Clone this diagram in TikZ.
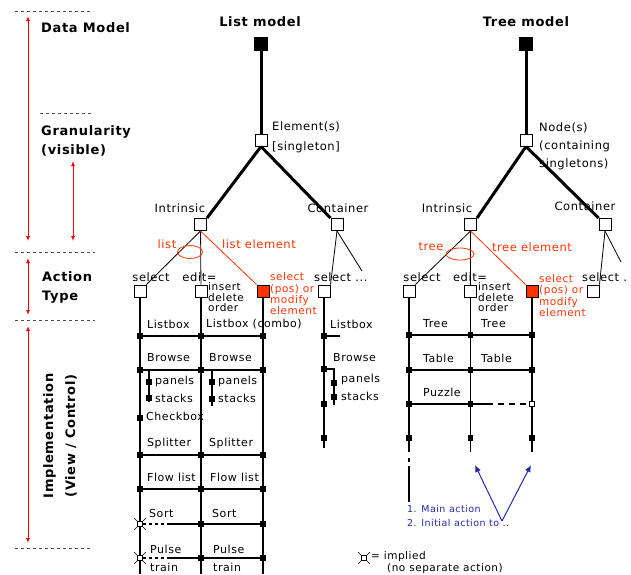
\documentclass[tikz,border=0pt]{standalone}
\usepackage{fontspec}
\setmainfont{DejaVu Sans}[LetterSpace=5]
\usepackage{xcolor}
\usetikzlibrary{arrows.meta,shapes.geometric}
\definecolor{actred}{RGB}{255,51,0}
\definecolor{navy}{RGB}{40,40,170}

\begin{document}
\begin{tikzpicture}[
  x=1pt, y=-1pt,
  hdr/.style={font=\bfseries\fontsize{13}{19}\selectfont, inner sep=0, align=left},
  lbl/.style={font=\fontsize{11.5}{13}\selectfont, inner sep=0},
  glbl/.style={font=\fontsize{11}{12}\selectfont, inner sep=0, anchor=west},
  note/.style={font=\fontsize{10.5}{10.5}\selectfont, inner sep=0, anchor=west, align=left},
  rednote/.style={note, text=actred, font=\fontsize{10.5}{11.3}\selectfont},
  box/.style={draw, fill=white, line width=1pt, inner sep=0, minimum size=12pt},
  blk/.style={box, fill=black, minimum size=13pt},
  pick/.style={box, fill=actred},
  dot/.style={fill=black, inner sep=0, minimum size=5.5pt},
  hollow/.style={draw, fill=white, line width=0.7pt, inner sep=0, minimum size=5pt},
  ray/.style={draw, line width=0.6pt},
  implied/.style={hollow, append after command={
    (\tikzlastnode.north east) edge[ray] ([shift={(3pt,3pt)}]\tikzlastnode.north east)
    (\tikzlastnode.north west) edge[ray] ([shift={(-3pt,3pt)}]\tikzlastnode.north west)
    (\tikzlastnode.south east) edge[ray] ([shift={(3pt,-3pt)}]\tikzlastnode.south east)
    (\tikzlastnode.south west) edge[ray] ([shift={(-3pt,-3pt)}]\tikzlastnode.south west)}},
  ring/.style={draw=actred, line width=0.8pt, ellipse, inner sep=0},
  thk/.style={line width=3pt},
  thn/.style={line width=0.8pt},
  col/.style={line width=1.4pt},
  row/.style={line width=1.4pt},
  gap/.style={row, dash pattern=on 3pt off 3pt},
  sep/.style={black!70, line width=0.7pt, dash pattern=on 3pt off 3pt},
  scl/.style={red, line width=1pt, <->, >={Latex[length=5pt,width=4pt]}},
  cue/.style={navy, line width=1pt, -{Latex[length=7pt,width=6pt]}}
]
\path[use as bounding box, fill=white] (0,0) rectangle (631,574);

% scale on the left
\draw[sep] (15,11) -- (93,11);
\draw[sep] (40,113) -- (93,113);
\draw[sep] (15,252) -- (95,252);
\draw[sep] (15,320) -- (95,320);
\draw[sep] (15,548) -- (92,548);
\draw[scl] (28,16) -- (28,241);
\draw[scl] (73,161) -- (73,241);
\draw[scl] (28,258) -- (28,315);
\draw[scl] (28,326) -- (28,543);
\node[hdr, anchor=west] (dm) at (41,28) {Data Model};
\node[hdr, anchor=west] (gr) at (41,140.5) {Granularity\\(visible)};
\node[hdr, anchor=west] (at) at (42,287.5) {Action\\Type};
\node[hdr, rotate=90, align=center, font=\bfseries\fontsize{13}{22}\selectfont] (im) at (60,436) {Implementation\\(View / Control)};

% list model
\node[hdr] (lhd) at (260,22) {List model};
\node[blk] (lroot) at (261,44) {};
\node[box] (lel) at (261,140) {};
\node[lbl, anchor=west, align=left, font=\fontsize{11.5}{20}\selectfont] (lelt) at (272,137) {Element(s)\\{[singleton]}};
\node[box] (lint) at (200.5,224.5) {};
\node[box] (lcon) at (337,224.5) {};
\node[lbl] (lintt) at (180,208) {Intrinsic};
\node[lbl] (lcont) at (338,208) {Container};
\draw[thk] (lroot) -- (lel);
\draw[thk] (lel.south) -- (lint.north east);
\draw[thk] (lel.south) -- (lcon.north west);

\node[box] (lsel) at (140,291) {};
\node[box] (ledit) at (201,291) {};
\node[pick] (lmod) at (263,291) {};
\node[box] (lcsel) at (324,291) {};
\coordinate (lcx) at (362,271);
\draw[thn] (lint.south) -- (lsel.north east);
\draw[thn] (lint) -- (ledit);
\draw[thn, actred] (lint.south) -- (lmod.north west);
\draw[thn] (lcon.south) -- (lcsel.north east);
\draw[thn] (lcon.south) -- (lcx);
\node[ring, minimum width=25pt, minimum height=13pt] (lring) at (190,252) {};
\node[lbl, text=actred] (llst) at (167,244) {list};
\node[lbl, text=actred] (llel) at (259,244) {list element};
\node[lbl] (lselt) at (151,277) {select};
\node[lbl] (ledt) at (199.5,277) {edit=};
\node[lbl, anchor=west] (lcst) at (314,277) {select ...};
\node[note] (lops) at (208,297.5) {insert\\delete\\order};
\node[rednote] (lmodt) at (270,294) {select\\(pos) or\\modify\\element};

\coordinate (l1e) at (140,574);
\coordinate (l2e) at (201,574);
\coordinate (l3e) at (263,574);
\coordinate (l4e) at (324,448);
\draw[col] (lsel) -- (l1e);
\draw[col] (ledit) -- (l2e);
\draw[col] (lmod) -- (l3e);
\draw[col] (lcsel) -- (l4e);

\foreach \n/\y in {a/336,b/370,c/455,d/489}{
  \node[dot] (l\n1) at (140,\y) {};
  \node[dot] (l\n2) at (201,\y) {};
  \node[dot] (l\n3) at (263,\y) {};
  \draw[row] (l\n1) -- (l\n2) -- (l\n3);
}
\foreach \n/\y in {e/524,f/558}{
  \node[implied] (l\n1) at (140,\y) {};
  \coordinate (lg\n) at (167,\y);
  \node[dot] (l\n2) at (201,\y) {};
  \node[dot] (l\n3) at (263,\y) {};
  \draw[gap] (l\n1) -- (lg\n);
  \draw[row] (lg\n) -- (l\n2) -- (l\n3);
}
\coordinate (lbr1) at (149,370);
\coordinate (lbe1) at (149,402);
\coordinate (lbr2) at (212,370);
\coordinate (lbe2) at (212,406);
\draw[col] (lbr1) -- (lbe1);
\draw[col] (lbr2) -- (lbe2);
\node[dot] (lp1) at (149,382) {};
\node[dot] (ls1) at (149,398) {};
\node[dot] (lp2) at (212,382) {};
\node[dot] (ls2) at (212,399) {};
\node[dot] (lck) at (140,418) {};

\node[dot] (lka) at (324,336) {};
\node[dot] (lkb) at (324,369) {};
\node[dot] (lkc) at (324,404) {};
\node[dot] (lkd) at (324,438) {};
\coordinate (lkst) at (340,336);
\coordinate (lkb1) at (334,369);
\coordinate (lkb2) at (334,405);
\draw[row] (lka) -- (lkst);
\draw[row] (lkb) -- (lkb1) -- (lkb2);
\node[dot] (lkp) at (334,383) {};
\node[dot] (lks) at (334,397) {};

\node[glbl] (g1) at (147,324) {Listbox};
\node[glbl] (g2) at (206,324) {Listbox (combo)};
\node[glbl] (g3) at (147,358) {Browse};
\node[glbl] (g4) at (209,358) {Browse};
\node[glbl] (g5) at (155,381) {panels};
\node[glbl] (g6) at (155,398) {stacks};
\node[glbl] (g7) at (218,381) {panels};
\node[glbl] (g8) at (218,398) {stacks};
\node[glbl] (g9) at (146,416) {Checkbox};
\node[glbl] (g10) at (147,443) {Splitter};
\node[glbl] (g11) at (209,443) {Splitter};
\node[glbl] (g12) at (147,477) {Flow list};
\node[glbl] (g13) at (210,477) {Flow list};
\node[glbl] (g14) at (149,513) {Sort};
\node[glbl] (g15) at (212,513) {Sort};
\node[glbl] (g16) at (150,549) {Pulse};
\node[glbl] (g17) at (150,567) {train};
\node[glbl] (g18) at (213,549) {Pulse};
\node[glbl] (g19) at (213,567) {train};
\node[glbl] (g20) at (330,324) {Listbox};
\node[glbl] (g21) at (333,358) {Browse};
\node[glbl] (g22) at (341,379) {panels};
\node[glbl] (g23) at (341,396) {stacks};

% tree model
\node[hdr] (thd) at (526,22) {Tree model};
\node[blk] (troot) at (526,44) {};
\node[box] (tnd) at (526,140) {};
\node[lbl, anchor=west, align=left, font=\fontsize{11.5}{18}\selectfont] (tndt) at (539,146) {Node(s)\\(containing\\singletons)};
\node[box] (tint) at (470.5,224.5) {};
\node[box] (tcon) at (605,224.5) {};
\node[lbl] (tintt) at (447,208) {Intrinsic};
\node[lbl] (tcont) at (585,206) {Container};
\draw[thk] (troot) -- (tnd);
\draw[thk] (tnd.south) -- (tint.north east);
\draw[thk] (tnd.south) -- (tcon.north west);

\node[box] (tsel) at (409,291) {};
\node[box] (tedit) at (470.5,291) {};
\node[pick] (tmod) at (532,291) {};
\node[box] (tcsel) at (593,291) {};
\coordinate (tcx) at (621,262);
\draw[thn] (tint.south) -- (tsel.north east);
\draw[thn] (tint) -- (tedit);
\draw[thn, actred] (tint.south) -- (tmod.north west);
\draw[thn] (tcon.south) -- (tcsel.north east);
\draw[thn] (tcon.south) -- (tcx);
\node[ring, minimum width=28pt, minimum height=12pt] (tring) at (460,254) {};
\node[lbl, text=actred] (ttr) at (431,247) {tree};
\node[lbl, text=actred] (ttel) at (532,247) {tree element};
\node[lbl] (tselt) at (422,277) {select};
\node[lbl] (tedt) at (470,277) {edit=};
\node[lbl, anchor=west] (tcst) at (582,277) {select .};
\node[note] (tops) at (478,297.5) {insert\\delete\\order};
\node[rednote] (tmodt) at (539,295.5) {select\\(pos) or\\modify\\element};

\coordinate (t1e) at (409,452);
\coordinate (t2e) at (470.5,452);
\coordinate (t3e) at (532,452);
\coordinate (tx1) at (409,458);
\coordinate (tx2) at (409,462);
\coordinate (tx3) at (409,466);
\coordinate (tx4) at (409,502);
\draw[col] (tsel) -- (t1e);
\draw[col] (tx1) -- (tx2) (tx3) -- (tx4);
\draw[col] (tedit) -- (t2e);
\draw[col] (tmod) -- (t3e);

\foreach \n/\y in {a/335,b/370}{
  \node[dot] (t\n1) at (409,\y) {};
  \node[dot] (t\n2) at (470.5,\y) {};
  \node[dot] (t\n3) at (532,\y) {};
  \draw[row] (t\n1) -- (t\n2) -- (t\n3);
}
\node[dot] (tc1) at (409,404) {};
\node[dot] (tc2) at (470.5,404) {};
\node[hollow] (tc3) at (532,404) {};
\coordinate (tcg) at (487,404);
\draw[row] (tc1) -- (tc2) -- (tcg);
\draw[gap, dash pattern=on 6pt off 5pt] (tcg) -- (tc3);
\node[dot] (td1) at (409,438) {};
\node[dot] (td2) at (470.5,438) {};
\node[dot] (td3) at (532,438) {};

\node[glbl] (h1) at (423,324) {Tree};
\node[glbl] (h2) at (481,324) {Tree};
\node[glbl] (h3) at (423,358) {Table};
\node[glbl] (h4) at (481,358) {Table};
\node[glbl] (h5) at (423,392) {Puzzle};

% hints and legend
\node[note, text=navy, font=\fontsize{9.5}{14}\selectfont] (hint) at (407,516) {1. Main action\\2. Initial action to ..};
\coordinate (hbase) at (502,521);
\coordinate (hmain) at (475,465);
\coordinate (hinit) at (531,465);
\draw[cue] (hbase) -- (hmain);
\draw[cue] (hbase) -- (hinit);

\node[implied] (leg) at (364,558) {};
\node[note, font=\fontsize{10.5}{12}\selectfont] (legt) at (371,557) {= implied};
\node[note, font=\fontsize{10.5}{12}\selectfont] (legs) at (387,569) {(no separate action)};
\end{tikzpicture}
\end{document}
